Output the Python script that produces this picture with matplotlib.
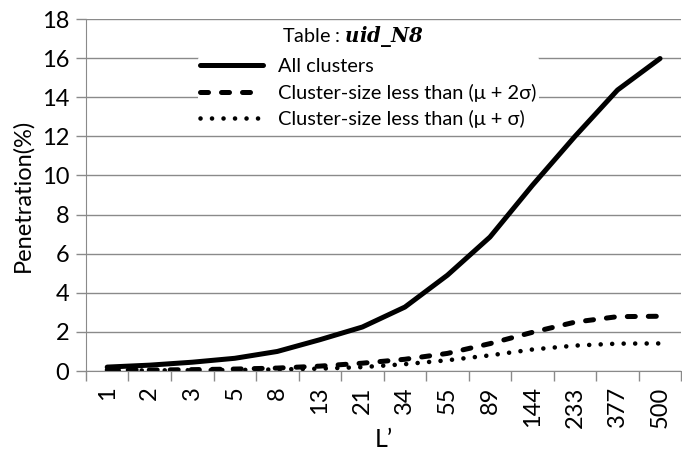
import matplotlib.pyplot as plt
import numpy as np

plt.rcParams['font.family'] = ['Lato', 'DejaVu Sans']
plt.rcParams['mathtext.fontset'] = 'custom'
plt.rcParams['mathtext.bf'] = 'DejaVu Serif:italic:bold'

l_values = ['1', '2', '3', '5', '8', '13', '21', '34', '55', '89', '144', '233', '377', '500']
all_clusters = [0.2, 0.3, 0.45, 0.65, 1.0, 1.6, 2.25, 3.27, 4.9, 6.85, 9.5, 12.0, 14.37, 15.98]
below_2sigma = [0.05, 0.05, 0.07, 0.1, 0.15, 0.25, 0.4, 0.6, 0.9, 1.4, 1.98, 2.5, 2.78, 2.8]
below_sigma = [0.03, 0.03, 0.04, 0.05, 0.08, 0.12, 0.2, 0.35, 0.55, 0.8, 1.1, 1.3, 1.4, 1.41]

fig = plt.figure(figsize=(6.82, 4.53), dpi=100)
ax = fig.add_axes([0.126, 0.181, 0.873, 0.777])

x = np.arange(len(l_values))
ax.plot(x, all_clusters, color='black', lw=3.6, solid_capstyle='round',
        label='All clusters')
ax.plot(x, below_2sigma, color='black', lw=3.6, dashes=(1.6, 2.6),
        dash_capstyle='round', label='Cluster-size less than (μ + 2σ)')
ax.plot(x, below_sigma, color='black', lw=3.3, dashes=(0.01, 2.5),
        dash_capstyle='round', label='Cluster-size less than (μ + σ)')

ax.set_xlim(-0.5, len(l_values) - 0.5)
ax.set_ylim(0, 18)
ax.set_yticks(np.arange(0, 19, 2))
ax.yaxis.grid(True, color='#8a8a8a', lw=1)
ax.set_axisbelow(True)

ax.set_xticks(x)
ax.set_xticklabels(l_values, rotation=90, fontsize=17)
ax.set_xticks(np.arange(-0.5, len(l_values), 1), minor=True)
ax.tick_params(axis='x', which='major', length=0, pad=11)
ax.tick_params(axis='x', which='minor', length=7, color='#8a8a8a', width=1)
ax.tick_params(axis='y', labelsize=17, length=7, color='#8a8a8a', width=1, pad=5)

for side in ['top', 'right']:
    ax.spines[side].set_visible(False)
for side in ['left', 'bottom']:
    ax.spines[side].set_color('#8a8a8a')

ax.set_ylabel('Penetration(%)', fontsize=17, labelpad=6)
ax.set_xlabel('L\u2019', fontsize=18, labelpad=0)

leg = ax.legend(loc='upper left', bbox_to_anchor=(0.171, 0.922), fontsize=14.4,
                handlelength=3.15, handletextpad=0.78, labelspacing=0.42,
                frameon=True, facecolor='white', edgecolor='none',
                framealpha=1, borderpad=0.1)

# table name above the legend entries
ax.text(0.329, 0.95, 'Table : $\\mathbf{uid\\_N8}$', transform=ax.transAxes,
        fontsize=14.2, ha='left', va='center')

fig.savefig('out.png', dpi=100)
